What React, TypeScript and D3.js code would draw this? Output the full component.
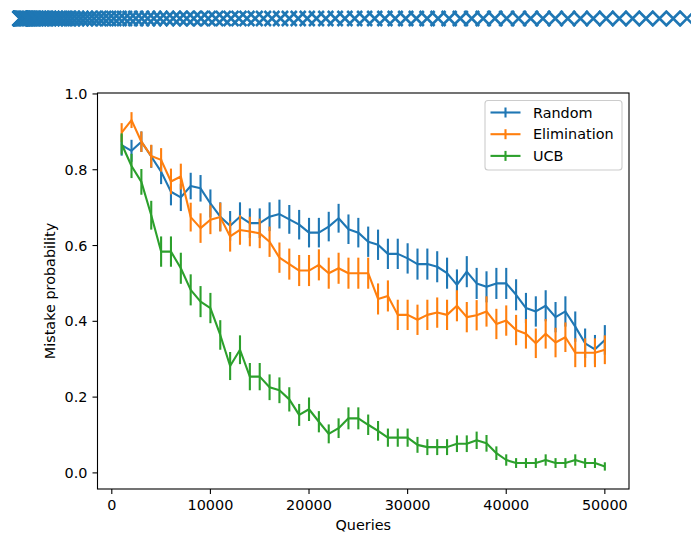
import React, { useRef, useEffect } from 'react';
import * as d3 from 'd3';

// queries on the x axis
const queries = [
  1000, 2000, 3000, 4000, 5000, 6000, 7000, 8000, 9000, 10000,
  11000, 12000, 13000, 14000, 15000, 16000, 17000, 18000, 19000, 20000,
  21000, 22000, 23000, 24000, 25000, 26000, 27000, 28000, 29000, 30000,
  31000, 32000, 33000, 34000, 35000, 36000, 37000, 38000, 39000, 40000,
  41000, 42000, 43000, 44000, 45000, 46000, 47000, 48000, 49000, 50000,
];

const randomMean = [
  0.865, 0.85, 0.874, 0.835, 0.795, 0.742, 0.727, 0.757, 0.751, 0.711,
  0.676, 0.652, 0.676, 0.659, 0.659, 0.676, 0.683, 0.669, 0.655, 0.634,
  0.634, 0.65, 0.672, 0.643, 0.634, 0.61, 0.602, 0.578, 0.578, 0.566,
  0.551, 0.551, 0.544, 0.527, 0.496, 0.531, 0.5, 0.491, 0.5, 0.5,
  0.47, 0.435, 0.426, 0.441, 0.411, 0.426, 0.386, 0.342, 0.326, 0.351,
];
const randomErr = [
  0.028, 0.029, 0.027, 0.03, 0.033, 0.036, 0.036, 0.035, 0.035, 0.037,
  0.038, 0.039, 0.038, 0.039, 0.039, 0.038, 0.038, 0.038, 0.039, 0.039,
  0.039, 0.039, 0.038, 0.039, 0.039, 0.04, 0.04, 0.04, 0.04, 0.04,
  0.041, 0.041, 0.041, 0.041, 0.041, 0.041, 0.041, 0.041, 0.041, 0.041,
  0.041, 0.04, 0.04, 0.041, 0.04, 0.04, 0.04, 0.039, 0.038, 0.039,
];

const elimMean = [
  0.898, 0.931, 0.874, 0.836, 0.826, 0.769, 0.782, 0.675, 0.646, 0.668,
  0.675, 0.624, 0.641, 0.637, 0.632, 0.61, 0.568, 0.551, 0.534, 0.534,
  0.549, 0.527, 0.54, 0.527, 0.527, 0.527, 0.459, 0.467, 0.417, 0.417,
  0.404, 0.417, 0.423, 0.417, 0.441, 0.411, 0.416, 0.426, 0.393, 0.402,
  0.377, 0.367, 0.342, 0.367, 0.344, 0.358, 0.317, 0.317, 0.317, 0.325,
];
const elimErr = [
  0.025, 0.021, 0.027, 0.03, 0.031, 0.034, 0.034, 0.038, 0.039, 0.038,
  0.038, 0.04, 0.039, 0.039, 0.039, 0.04, 0.04, 0.041, 0.041, 0.041,
  0.041, 0.041, 0.041, 0.041, 0.041, 0.041, 0.041, 0.041, 0.04, 0.04,
  0.04, 0.04, 0.04, 0.04, 0.041, 0.04, 0.04, 0.04, 0.04, 0.04,
  0.04, 0.039, 0.039, 0.039, 0.039, 0.039, 0.038, 0.038, 0.038, 0.038,
];

const ucbMean = [
  0.868, 0.81, 0.768, 0.68, 0.584, 0.584, 0.54, 0.483, 0.452, 0.435,
  0.364, 0.282, 0.325, 0.254, 0.254, 0.226, 0.218, 0.194, 0.153, 0.168,
  0.135, 0.103, 0.118, 0.144, 0.144, 0.127, 0.111, 0.093, 0.093, 0.093,
  0.074, 0.068, 0.068, 0.068, 0.077, 0.077, 0.086, 0.078, 0.052, 0.034,
  0.026, 0.026, 0.026, 0.034, 0.026, 0.026, 0.034, 0.026, 0.026, 0.017,
];
const ucbErr = [
  0.028, 0.032, 0.034, 0.038, 0.04, 0.04, 0.041, 0.041, 0.041, 0.04,
  0.039, 0.037, 0.038, 0.036, 0.036, 0.034, 0.034, 0.032, 0.029, 0.031,
  0.028, 0.025, 0.026, 0.029, 0.029, 0.027, 0.026, 0.024, 0.024, 0.024,
  0.021, 0.021, 0.021, 0.021, 0.022, 0.022, 0.023, 0.022, 0.018, 0.015,
  0.013, 0.013, 0.013, 0.015, 0.013, 0.013, 0.015, 0.013, 0.013, 0.011,
];

const seriesNames = ['Random', 'Elimination', 'UCB'];
const seriesColors = ['#1f77b4', '#ff7f0e', '#2ca02c'];

const xTicks = [0, 10000, 20000, 30000, 40000, 50000];
const yTicks = [0.0, 0.2, 0.4, 0.6, 0.8, 1.0];

// stray row of x markers along the top of the figure
const topMarkerIdx = [
  0, 1, 2, 3, 4, 5, 6, 7, 8, 9, 10, 11, 12, 13, 14, 15, 16, 17, 18, 19,
  20, 21, 22, 23, 24, 25, 26, 27, 28, 29, 30, 31, 32, 33, 34, 35, 36, 37, 38, 39,
  40, 41, 42, 43, 44, 45, 46, 47, 48, 49, 50, 51, 52, 53, 54, 55, 56, 57, 58, 59,
  60, 61, 62, 63, 64, 65, 66, 67, 68, 69, 70, 71, 72, 73, 74, 75, 76, 77, 78, 79,
  80, 81, 82, 83, 84, 85, 86, 87, 88, 89, 90, 91, 92, 93, 94, 95, 96, 97,
];

const W = 691;
const H = 535;
const FONT = '"DejaVu Sans", sans-serif';

const App = () => {
  const svgRef = useRef<SVGSVGElement>(null);

  useEffect(() => {
    document.body.style.margin = '0';
    const svg = d3.select(svgRef.current);
    svg.selectAll('*').remove();

    const left = 97.5, right = 629, top = 93, bottom = 489;

    const x = d3.scaleLinear().domain([-1450, 52450]).range([left, right]);
    const y = d3.scaleLinear().domain([-0.0425, 1.0025]).range([bottom, top]);

    // top marker row
    const xm = d3.scalePow().exponent(2).domain([0, 97]).range([20, 701]);
    const s = 7.5, cy = 18.5;
    svg.append('g')
      .selectAll('path')
      .data(topMarkerIdx)
      .join('path')
      .attr('d', d => {
        const cx = xm(d);
        return `M${cx - s},${cy - s}L${cx + s},${cy + s}M${cx - s},${cy + s}L${cx + s},${cy - s}`;
      })
      .attr('stroke', seriesColors[0])
      .attr('stroke-width', 2.6)
      .attr('fill', 'none');

    // series
    const all = [
      { mean: randomMean, err: randomErr },
      { mean: elimMean, err: elimErr },
      { mean: ucbMean, err: ucbErr },
    ];
    const line = d3.line<number>()
      .x((_, i) => x(queries[i]))
      .y(d => y(d));

    all.forEach((ser, k) => {
      const g = svg.append('g');
      g.append('path')
        .attr('d', line(ser.mean))
        .attr('fill', 'none')
        .attr('stroke', seriesColors[k])
        .attr('stroke-width', 2.1)
        .attr('stroke-linejoin', 'round');
      g.selectAll('line')
        .data(ser.mean)
        .join('line')
        .attr('x1', (_, i) => x(queries[i]))
        .attr('x2', (_, i) => x(queries[i]))
        .attr('y1', (d, i) => y(d - ser.err[i]))
        .attr('y2', (d, i) => y(d + ser.err[i]))
        .attr('stroke', seriesColors[k])
        .attr('stroke-width', 2.1);
    });

    // frame
    svg.append('rect')
      .attr('x', left).attr('y', top)
      .attr('width', right - left).attr('height', bottom - top)
      .attr('fill', 'none').attr('stroke', '#000').attr('stroke-width', 1.1);

    // x axis
    const xa = svg.append('g').attr('font-family', FONT).attr('font-size', 14.4);
    xTicks.forEach(t => {
      xa.append('line')
        .attr('x1', x(t)).attr('x2', x(t))
        .attr('y1', bottom).attr('y2', bottom + 5)
        .attr('stroke', '#000').attr('stroke-width', 1.1);
      xa.append('text')
        .attr('x', x(t)).attr('y', bottom + 20.5)
        .attr('text-anchor', 'middle')
        .text(t);
    });
    xa.append('text')
      .attr('x', (left + right) / 2).attr('y', 530)
      .attr('text-anchor', 'middle')
      .text('Queries');

    // y axis
    const ya = svg.append('g').attr('font-family', FONT).attr('font-size', 14.4);
    yTicks.forEach(t => {
      ya.append('line')
        .attr('x1', left - 5).attr('x2', left)
        .attr('y1', y(t)).attr('y2', y(t))
        .attr('stroke', '#000').attr('stroke-width', 1.1);
      ya.append('text')
        .attr('x', left - 10).attr('y', y(t))
        .attr('dy', '0.36em')
        .attr('text-anchor', 'end')
        .text(d3.format('.1f')(t));
    });
    ya.append('text')
      .attr('transform', `translate(55,${(top + bottom) / 2}) rotate(-90)`)
      .attr('text-anchor', 'middle')
      .text('Mistake probability');

    // legend
    const lg = svg.append('g').attr('font-family', FONT).attr('font-size', 14.4);
    lg.append('rect')
      .attr('x', 485).attr('y', 100.5)
      .attr('width', 137).attr('height', 69.5)
      .attr('rx', 3)
      .attr('fill', 'rgba(255,255,255,0.8)')
      .attr('stroke', '#cccccc').attr('stroke-width', 1.1);
    seriesNames.forEach((name, i) => {
      const ry = 112.5 + i * 21.7;
      lg.append('line')
        .attr('x1', 490.5).attr('x2', 520.5)
        .attr('y1', ry).attr('y2', ry)
        .attr('stroke', seriesColors[i]).attr('stroke-width', 2.1);
      lg.append('line')
        .attr('x1', 505.5).attr('x2', 505.5)
        .attr('y1', ry - 5).attr('y2', ry + 5)
        .attr('stroke', seriesColors[i]).attr('stroke-width', 2.1);
      lg.append('text')
        .attr('x', 533).attr('y', ry)
        .attr('dy', '0.36em')
        .text(name);
    });
  }, []);

  return <svg ref={svgRef} width={W} height={H} style={{ display: 'block', background: '#fff' }} />;
};

export default App;
